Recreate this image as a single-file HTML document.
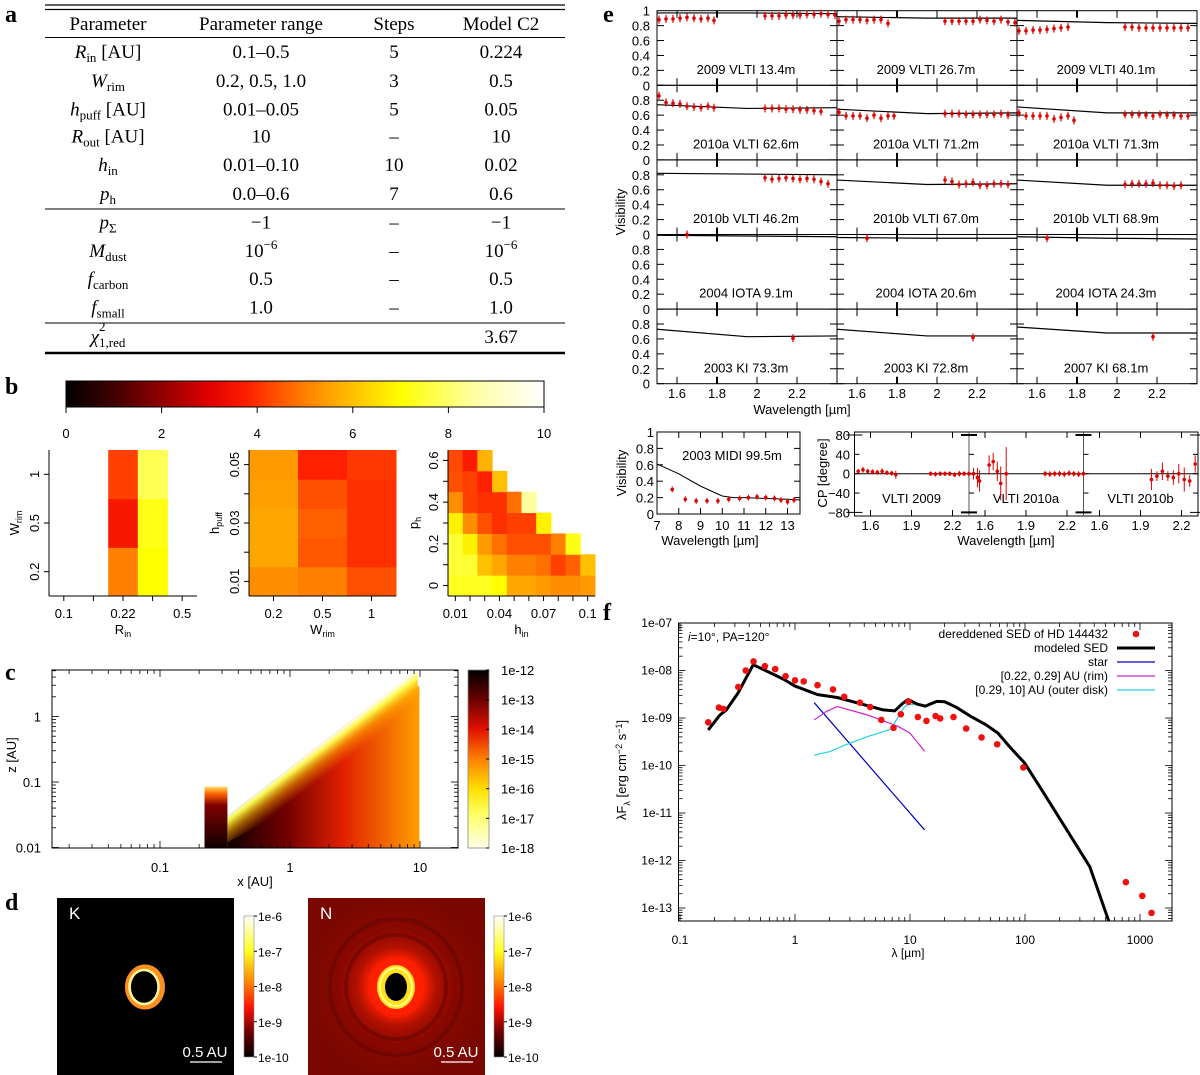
<!DOCTYPE html>
<html><head><meta charset="utf-8">
<style>
html,body{margin:0;padding:0;background:#fff;}
svg{display:block;}
</style></head>
<body>
<svg id="fig" width="1200" height="1075" viewBox="0 0 1200 1075" xmlns="http://www.w3.org/2000/svg" font-family="Liberation Sans, sans-serif">
<defs>
<linearGradient id="gradB" x1="0" y1="0" x2="1" y2="0">
<stop offset="0" stop-color="#000"/><stop offset="0.1" stop-color="#400000"/><stop offset="0.2" stop-color="#900000"/><stop offset="0.3" stop-color="#e00000"/><stop offset="0.38" stop-color="#ff2000"/><stop offset="0.5" stop-color="#ff8000"/><stop offset="0.6" stop-color="#ffc000"/><stop offset="0.7" stop-color="#ffff00"/><stop offset="0.85" stop-color="#ffffa0"/><stop offset="1" stop-color="#fff"/>
</linearGradient>
<linearGradient id="gradC" x1="0" y1="0" x2="0" y2="1">
<stop offset="0" stop-color="#000"/><stop offset="0.15" stop-color="#600000"/><stop offset="0.33" stop-color="#e01000"/><stop offset="0.5" stop-color="#ff8000"/><stop offset="0.67" stop-color="#ffe000"/><stop offset="0.8" stop-color="#ffff60"/><stop offset="1" stop-color="#ffffe8"/>
</linearGradient>
<linearGradient id="gradD" x1="0" y1="0" x2="0" y2="1">
<stop offset="0" stop-color="#fff"/><stop offset="0.25" stop-color="#ffff20"/><stop offset="0.45" stop-color="#ff9000"/><stop offset="0.65" stop-color="#ff1000"/><stop offset="0.82" stop-color="#700000"/><stop offset="1" stop-color="#000"/>
</linearGradient>
<linearGradient id="diskH" gradientUnits="userSpaceOnUse" x1="228" y1="0" x2="420" y2="0">
<stop offset="0" stop-color="#100000"/><stop offset="0.3" stop-color="#700000"/><stop offset="0.6" stop-color="#e02000"/><stop offset="1" stop-color="#ffa000"/>
</linearGradient>
<linearGradient id="diskTop" gradientUnits="userSpaceOnUse" x1="320" y1="744.5" x2="337" y2="767">
<stop offset="0" stop-color="#ffffe8" stop-opacity="1"/><stop offset="0.2" stop-color="#ffff50" stop-opacity="0.95"/><stop offset="0.55" stop-color="#ffb000" stop-opacity="0.55"/><stop offset="1" stop-color="#ff8000" stop-opacity="0"/>
</linearGradient>
<linearGradient id="rimG" x1="0" y1="0" x2="0" y2="1">
<stop offset="0" stop-color="#ffe060"/><stop offset="0.12" stop-color="#ff6000"/><stop offset="0.3" stop-color="#800000"/><stop offset="1" stop-color="#100000"/>
</linearGradient>
<radialGradient id="glowN" cx="0.5" cy="0.5" r="0.5">
<stop offset="0" stop-color="#ff3000"/><stop offset="0.3" stop-color="#ff2000"/><stop offset="0.45" stop-color="#b01000"/><stop offset="0.65" stop-color="#880800"/><stop offset="1" stop-color="#7a0800"/>
</radialGradient>
<clipPath id="clipF"><rect x="678" y="623" width="494" height="298"/></clipPath>
</defs>
</svg>
<script>
// ===== Data =====
const rinTicks=['0.1','0.22','0.5'];
const wrimTicks=['0.2','0.5','1'];
const chi2Rin=[[null,null,5.0,7.0,null],[null,null,3.6,7.2,null],[null,null,4.2,7.8,null]];
const chi2Hpuff=[[5.2,5.0,4.4],[5.6,4.5,4.0],[5.6,4.6,4.0],[5.5,4.4,4.0],[5.4,3.8,4.1]];
const hpuffTicks=['0.01','0.03','0.05'];
const chi2Ph=[
[7.3,7.3,7.3,7.0,5.6,5.6,5.4,5.2,5.2,5.4],
[7.5,7.5,6.0,5.6,5.0,5.0,4.8,4.2,4.6,6.0],
[7.5,6.8,5.4,4.8,4.4,4.4,4.4,5.0,7.2,null],
[6.8,5.2,4.4,4.0,4.2,4.2,6.8,null,null,null],
[5.2,4.2,4.0,4.0,4.8,8.5,null,null,null,null],
[4.4,4.2,3.8,6.0,null,null,null,null,null,null],
[4.3,3.7,5.8,null,null,null,null,null,null,null]];
const hinTicks=['0.01','0.04','0.07','0.1'];
const phTicks=['0','0.2','0.4','0.6'];
const cbarBTicks=[0,2,4,6,8,10];
const visTitles=['2009 VLTI 13.4m','2009 VLTI 26.7m','2009 VLTI 40.1m','2010a VLTI 62.6m','2010a VLTI 71.2m','2010a VLTI 71.3m','2010b VLTI 46.2m','2010b VLTI 67.0m','2010b VLTI 68.9m','2004 IOTA 9.1m','2004 IOTA 20.6m','2004 IOTA 24.3m','2003 KI 73.3m','2003 KI 72.8m','2007 KI 68.1m'];
const visModel=[[0.97,0.97,0.96],[0.92,0.90,0.90],[0.87,0.84,0.83],[0.74,0.69,0.70],[0.68,0.62,0.63],[0.71,0.63,0.63],[0.82,0.81,0.80],[0.73,0.67,0.68],[0.73,0.66,0.66],[0.99,0.98,0.97],[0.96,0.95,0.95],[0.97,0.95,0.94],[0.73,0.63,0.64],[0.73,0.64,0.64],[0.76,0.68,0.68]];
const hLam=[1.51,1.545,1.58,1.615,1.65,1.685,1.72,1.755,1.785];
const kLam=[2.04,2.075,2.11,2.145,2.18,2.215,2.25,2.285,2.32,2.355,2.39];
const visH=[[0.88,0.89,0.89,0.90,0.91,0.90,0.89,0.90,0.87],[0.86,0.88,0.88,0.88,0.87,0.88,0.88,0.83],[0.73,0.73,0.74,0.74,0.75,0.76,0.77,0.78],[0.86,0.77,0.76,0.75,0.72,0.71,0.70,0.72,0.70],[0.64,0.59,0.59,0.59,0.56,0.60,0.56,0.59,0.59],[0.63,0.59,0.59,0.59,0.59,0.55,0.57,0.59,0.53],[],[],[],[],[],[],[],[],[]];
const visK=[[0.93,0.93,0.93,0.94,0.94,0.94,0.95,0.95,0.96,0.95,0.94],[0.86,0.86,0.86,0.86,0.86,0.88,0.87,0.86,0.88,0.85,0.84],[0.78,0.78,0.77,0.77,0.77,0.77,0.77,0.77,0.77,0.77],[0.69,0.69,0.69,0.68,0.68,0.67,0.67,0.66,0.65],[0.62,0.62,0.62,0.61,0.61,0.61,0.61,0.61,0.62,0.60],[0.61,0.61,0.61,0.60,0.59,0.61,0.60,0.60,0.59,0.59],[0.76,0.74,0.75,0.76,0.75,0.74,0.75,0.74,0.71,0.68],[0.73,0.71,0.67,0.68,0.70,0.66,0.66,0.68,0.68,0.67],[0.67,0.68,0.68,0.68,0.69,0.66,0.66,0.65,0.66],[],[],[],[],[],[]];
const visSingleLam=[null,null,null,null,null,null,null,null,null,1.65,1.65,1.65,2.18,2.18,2.18];
const visSingleV=[null,null,null,null,null,null,null,null,null,1.0,0.95,0.95,0.61,0.62,0.63];
const visXTicks=[1.6,1.8,2.0,2.2];
const visYTicks=[0,0.2,0.4,0.6,0.8];
const midiLam=[7.7,8.3,8.8,9.3,9.8,10.3,10.8,11.2,11.6,12.0,12.4,12.7,13.0,13.3];
const midiV=[0.30,0.18,0.16,0.16,0.16,0.18,0.19,0.20,0.21,0.20,0.19,0.17,0.15,0.17];
const midiModelLam=[7,8,9,10,10.5,11,12,13,13.6];
const midiModelV=[0.61,0.49,0.34,0.22,0.20,0.20,0.19,0.18,0.17];
const midiXTicks=[7,8,9,10,11,12,13];
const cpTitles=['VLTI 2009','VLTI 2010a','VLTI 2010b'];
const cpLam=[[1.51,1.545,1.58,1.615,1.65,1.685,1.72,1.755,1.785,2.04,2.075,2.11,2.145,2.18,2.215,2.25,2.285,2.32],
[1.516,1.545,1.56,1.63,1.66,1.69,1.715,1.755,2.04,2.075,2.11,2.145,2.18,2.215,2.25,2.285,2.32],
[1.98,2.02,2.06,2.10,2.14,2.18,2.22,2.26,2.30]];
const cpVal=[[5,8,5,4,3,5,2,1,-2,0,-1,0,0,0,-2,0,0,0],
[0,-8,-15,18,25,5,-20,0,0,-1,0,0,-1,1,0,-1,0],
[-12,-5,5,-5,-8,0,-12,-15,20]];
const cpErr=[[5,6,5,5,5,6,5,5,8,5,5,5,5,5,5,6,5,6],
[12,20,22,20,18,20,35,55,6,6,6,6,6,6,6,6,6],
[22,10,18,10,15,20,25,12,18]];
const cpXTicks=[1.6,1.9,2.2];
const cpYTicks=[-80,-40,0,40,80];
const sedLam=[0.176,0.218,0.238,0.321,0.373,0.436,0.547,0.673,0.828,1.0,1.19,1.57,2.14,2.68,3.67,4.51,5.63,7.19,8.32,9.7,11.7,13.9,16.7,18.3,23.9,30.8,41.9,57.3,96.7,753,1047,1259];
const sedF=[8.1e-10,1.66e-9,1.55e-9,4.5e-9,1.0e-8,1.55e-8,1.23e-8,1.07e-8,7.6e-9,6.2e-9,5.9e-9,4.9e-9,4.0e-9,2.8e-9,2.1e-9,1.7e-9,9.1e-10,6.2e-10,1.2e-9,2.2e-9,1.05e-9,8.7e-10,1.1e-9,9.8e-10,1.05e-9,6.0e-10,3.9e-10,2.8e-10,9.1e-11,3.5e-13,1.8e-13,7.9e-14];
const modelLam=[0.176,0.222,0.253,0.318,0.433,0.545,0.80,1.0,1.26,1.58,2.33,3.69,5.85,7.36,8.57,9.62,11.6,13.6,17.1,20.0,25.1,34.0,46.2,58.2,73.3,99.5,146,231,366,538];
const modelF=[5.6e-10,1.15e-9,1.48e-9,3.3e-9,1.32e-8,1.02e-8,6.5e-9,4.7e-9,3.8e-9,3.1e-9,2.7e-9,2.0e-9,1.48e-9,1.41e-9,2.0e-9,2.45e-9,1.95e-9,1.78e-9,2.24e-9,2.2e-9,1.7e-9,1.07e-9,7.1e-10,4.8e-10,2.5e-10,1.12e-10,2.6e-11,4.4e-12,7.4e-13,5.1e-14];
const starLam=[1.47,13.4];
const starF=[2.1e-9,4.4e-12];
const rimLam=[1.47,1.85,2.33,4.31,7.94,10.0,13.4];
const rimF=[9.1e-10,1.35e-9,1.74e-9,1.15e-9,6.6e-10,4.8e-10,2.0e-10];
const outerLam=[1.47,2.0,2.72,4.31,6.82,8.57,9.27,11.6,13.4];
const outerF=[1.66e-10,1.95e-10,2.7e-10,4.1e-10,5.8e-10,1.48e-9,1.86e-9,2.0e-9,1.7e-9];
const sedXTicks=[0.1,1,10,100,1000];
const sedYTicks=['1e-07','1e-08','1e-09','1e-10','1e-11','1e-12','1e-13'];
const cXTicks=['0.1','1','10'];
const cYTicks=['0.01','0.1','1'];
const cCbarTicks=['1e-12','1e-13','1e-14','1e-15','1e-16','1e-17','1e-18'];
const dCbarTicks=['1e-6','1e-7','1e-8','1e-9','1e-10'];

// ===== helpers =====
const NS='http://www.w3.org/2000/svg';
const svg=document.getElementById('fig');
const SERIF='Liberation Serif, serif';
function mk(tag,attrs,parent){const e=document.createElementNS(NS,tag);for(const k in attrs)e.setAttribute(k,attrs[k]);(parent||svg).appendChild(e);return e;}
function txt(x,y,s,attrs,parent){const t=mk('text',Object.assign({x:x,y:y},attrs||{}),parent);t.textContent=s;return t;}
function grp(name){const g=mk('g',{});return g;}
function line(x1,y1,x2,y2,st,w,p){return mk('line',{x1:x1,y1:y1,x2:x2,y2:y2,stroke:st||'#000','stroke-width':w||1},p);}
const heatStops=[[0,[0,0,0]],[1,[64,0,0]],[2,[144,0,0]],[3,[224,0,0]],[3.8,[255,32,0]],[5,[255,128,0]],[6,[255,192,0]],[7,[255,255,0]],[8.5,[255,255,160]],[10,[255,255,255]]];
function heat(v){for(let i=0;i<heatStops.length-1;i++){const a=heatStops[i],b=heatStops[i+1];if(v<=b[0]){const t=(v-a[0])/(b[0]-a[0]);const c=a[1].map((x,j)=>Math.round(x+(b[1][j]-x)*t));return 'rgb('+c.join(',')+')';}}return '#fff';}

// ===== Panel labels =====
[['a',5,22],['b',5,394],['c',5,680],['d',5,910],['e',603,22],['f',603,620]].forEach(l=>{
  const t=txt(l[1],l[2],l[0],{'font-family':SERIF,'font-weight':'bold','font-size':'24'});
  
  
});

// ===== Panel a: table =====
(function(){
  const g=grp('parameter-table');
  const L=45,R=565;
  line(L,5,R,5,'#000',1.2,g);line(L,9.5,R,9.5,'#000',1.2,g);
  line(L,37.5,R,37.5,'#000',1,g);line(L,209,R,209,'#000',1,g);line(L,323,R,323,'#000',1,g);line(L,353,R,353,'#000',2.5,g);
  const cx=[108,261,394,501];
  const hdr=['Parameter','Parameter range','Steps','Model C2'];
  hdr.forEach((h,i)=>{const t=txt(cx[i],30,h,{'font-family':SERIF,'font-size':'19','text-anchor':'middle'},g);});
  const rows=[
   [['R','in',' [AU]'],'0.1–0.5','5','0.224',52],
   [['W','rim',''],'0.2,  0.5,  1.0','3','0.5',81],
   [['h','puff',' [AU]'],'0.01–0.05','5','0.05',109.5],
   [['R','out',' [AU]'],'10','–','10',136.5],
   [['h','in',''],'0.01–0.10','10','0.02',165],
   [['p','h',''],'0.0–0.6','7','0.6',194],
   [['p','Σ',''],'−1','–','−1',222.5],
   [['M','dust',''],'10','–','10',251],
   [['f','carbon',''],'0.5','–','0.5',279],
   [['f','small',''],'1.0','–','1.0',307.5],
   [['χ','1,red',''],'','','3.67',337]];
  rows.forEach((r,ri)=>{
    const y=r[4]+6;
    const t=mk('text',{x:cx[0],y:y,'font-family':SERIF,'font-size':'19','text-anchor':'middle'},g);
    
    
    const a=mk('tspan',{'font-style':'italic'},t);a.textContent=r[0][0];
    const b=mk('tspan',{'font-size':'13',dy:'4'},t);b.textContent=r[0][1];
    if(r[0][2]){const c=mk('tspan',{dy:'-4'},t);c.textContent=r[0][2];}
    if(ri===10){const s=txt(99,y-12,'2',{'font-family':SERIF,'font-size':'13'},g);}
    [r[1],r[2],r[3]].forEach((v,ci)=>{
      const tt=txt(cx[ci+1],y,v,{'font-family':SERIF,'font-size':'19','text-anchor':'middle'},g);
      
      
      if(ri===7&&ci!==1){const sp=mk('tspan',{'font-size':'13',dy:'-8'},tt);sp.textContent='−6';}
    });
  });
})();

// ===== Panel b =====
(function(){
  const g=grp('chi2-colorbar');
  const r=mk('rect',{x:66,y:381,width:478,height:26,fill:'url(#gradB)',stroke:'#000','stroke-width':1},g);
  
  cbarBTicks.forEach(v=>{const x=66+v/10*478;line(x,407,x,413,'#000',1,g);const t=txt(x,438,String(v),{'font-size':'13','text-anchor':'middle'},g);});
})();
function heatPanel(name,x0,y0,w,h,grid,xt,xtIdx,yt,ytIdx,xTitle,xSub,yTitle,ySub){
  const g=grp(name);
  const nr=grid.length,nc=grid[0].length,cw=w/nc,rh=h/nr;
  grid.forEach((row,ri)=>row.forEach((v,ci)=>{
    if(v===null)return;
    const c=mk('rect',{x:x0+ci*cw,y:y0+h-(ri+1)*rh,width:cw+0.5,height:rh+0.5,fill:heat(v)},g);
    
    
  }));
  line(x0,y0,x0,y0+h,'#000',1,g);line(x0,y0+h,x0+w,y0+h,'#000',1,g);
  for(let i=0;i<nc;i++){line(x0+(i+0.5)*cw,y0+h,x0+(i+0.5)*cw,y0+h+5,'#000',1,g);}
  for(let i=0;i<nr;i++){line(x0,y0+h-(i+0.5)*rh,x0-5,y0+h-(i+0.5)*rh,'#000',1,g);}
  xt.forEach((s,i)=>{const t=txt(x0+(xtIdx[i]+0.5)*cw,618,s,{'font-size':'13','text-anchor':'middle'},g);});
  yt.forEach((s,i)=>{const y=y0+h-(ytIdx[i]+0.5)*rh;const t=txt(0,0,s,{'font-size':'13','text-anchor':'middle',transform:'translate('+(x0-10)+','+y+') rotate(-90)'},g);});
  const xtT=mk('text',{x:x0+w/2,y:634,'font-size':'13','text-anchor':'middle'},g);
  
  xtT.textContent=xTitle;const s1=mk('tspan',{'font-size':'9',dy:'3'},xtT);s1.textContent=xSub;
  const ytT=mk('text',{x:0,y:0,'font-size':'13','text-anchor':'middle',transform:'translate('+(x0-30)+','+(y0+h/2)+') rotate(-90)'},g);
  
  ytT.textContent=yTitle;const s2=mk('tspan',{'font-size':'9',dy:'3'},ytT);s2.textContent=ySub;
}
heatPanel('heatmap-rin-wrim',49,450,148,146,chi2Rin,rinTicks,[0,2,4],wrimTicks,[0,1,2],'R','in','W','rim');
heatPanel('heatmap-wrim-hpuff',249,450,147,146,chi2Hpuff,wrimTicks,[0,1,2],hpuffTicks,[0,2,4],'W','rim','h','puff');
heatPanel('heatmap-hin-ph',448,450,147,146,chi2Ph,hinTicks,[0,3,6,9],phTicks,[0,2,4,6],'h','in','p','h');

// ===== Panel c =====
(function(){
  const g=grp('density-map');
  const X0=52,X1=458,Y0=670,Y1=848;
  const lx=v=>290+Math.log10(v)*130, ly=v=>782-Math.log10(v/0.1)*65.5;
  const pts=a=>a.map(p=>p.join(',')).join(' ');
  const disk=mk('polygon',{points:pts([[lx(0.33),ly(0.03)],[lx(8.8),ly(4.6)],[lx(9.6),ly(4.6)],[lx(9.6),ly(2.9)],[lx(9.9),ly(2.9)],[lx(9.9),Y1],[lx(0.33),Y1]]),fill:'url(#diskH)'},g);
  
  const band=mk('polygon',{points:pts([[lx(0.33),ly(0.03)],[lx(8.8),ly(4.6)],[lx(9.6),ly(4.6)],[lx(9.6),ly(2.9)],[lx(9.9),ly(2.9)],[lx(9.9),ly(0.5)],[lx(0.33),ly(0.012)]]),fill:'url(#diskTop)'},g);
  
  const rim=mk('rect',{x:lx(0.22),y:ly(0.085),width:lx(0.33)-lx(0.22),height:Y1-ly(0.085),fill:'url(#rimG)'},g);
  
  mk('rect',{x:X0,y:Y0,width:X1-X0,height:Y1-Y0,fill:'none',stroke:'#000','stroke-width':1},g);
  for(let d=-2;d<=1;d++)for(let m=1;m<10;m++){const v=m*Math.pow(10,d);const x=lx(v);if(x<X0||x>X1)continue;const L=m===1?7:4;line(x,Y1,x,Y1-L,'#000',0.8,g);line(x,Y0,x,Y0+L,'#000',0.8,g);}
  for(let d=-2;d<=0;d++)for(let m=1;m<10;m++){const v=m*Math.pow(10,d);const y=ly(v);if(y<Y0||y>Y1)continue;const L=m===1?7:4;line(X0,y,X0+L,y,'#000',0.8,g);line(X1,y,X1-L,y,'#000',0.8,g);}
  cXTicks.forEach(s=>{const t=txt(lx(+s),872,s,{'font-size':'13','text-anchor':'middle'},g);});
  cYTicks.forEach(s=>{const t=txt(41,ly(+s)+5,s,{'font-size':'13','text-anchor':'end'},g);});
  const xt=txt(255,886,'x [AU]',{'font-size':'13','text-anchor':'middle'},g);
  const yt=txt(0,0,'z [AU]',{'font-size':'13','text-anchor':'middle',transform:'translate(16,755) rotate(-90)'},g);
  const cb=mk('rect',{x:468,y:670,width:21,height:178,fill:'url(#gradC)',stroke:'#888','stroke-width':0.8},g);
  
  cCbarTicks.forEach((s,i)=>{const y=670+i*178/6;line(486,y,489,y,'#000',1,g);const t=txt(501,y+5,s,{'font-size':'13'},g);});
})();

// ===== Panel d =====
function imgPanel(name,x0,label,isN,cbx){
  const g=grp(name);
  const r=mk('rect',{x:x0,y:898,width:177,height:177,fill:isN?'url(#glowN)':'#000'},g);
  
  const cx=x0+88,cy=987;
  if(isN){
    [[50,52],[66,68]].forEach(rr=>{mk('ellipse',{cx:cx,cy:cy,rx:rr[0],ry:rr[1],fill:'none',stroke:'#600400','stroke-width':4,opacity:0.5},g);});
    mk('ellipse',{cx:cx,cy:cy,rx:28,ry:31,fill:'#ff2000',opacity:0.6},g);
    mk('ellipse',{cx:cx,cy:cy,rx:19,ry:22,fill:'#ffe020'},g);
    mk('ellipse',{cx:cx,cy:cy,rx:16,ry:19,fill:'none',stroke:'#ffff80','stroke-width':2},g);
    mk('ellipse',{cx:cx,cy:cy,rx:11,ry:14,fill:'#000'},g);
  }else{
    mk('ellipse',{cx:cx,cy:cy,rx:17,ry:19.5,fill:'none',stroke:'#ff9020','stroke-width':6},g);
    mk('ellipse',{cx:cx-1,cy:cy,rx:14.5,ry:17,fill:'none',stroke:'#fff8a0','stroke-width':2.5},g);
  }
  const t=txt(x0+12,919,label,{'font-size':'17',fill:'#fff'},g);
  const s=txt(x0+148,1057,'0.5 AU',{'font-size':'15',fill:'#fff','text-anchor':'middle'},g);
  line(x0+133,1062,x0+165,1062,'#fff',1.2,g);
  const cb=mk('rect',{x:cbx,y:916,width:10,height:141,fill:'url(#gradD)',stroke:'#888','stroke-width':0.6},g);
  
  dCbarTicks.forEach((st,i)=>{const y=916+i*141/4;line(cbx+10,y,cbx+13,y,'#000',1,g);const tt=txt(cbx+14,y+5,st,{'font-size':'12'},g);});
}
imgPanel('k-band-image',57,'K',false,244);
imgPanel('n-band-image',308,'N',true,494);

// ===== Panel e: visibilities =====
(function(){
  const g=grp('visibility-grid');
  const CW=180,RH=74.6,TOP=10.7,LX=657;
  const px=(c,l)=>LX+c*CW+(l-1.5)/0.9*CW;
  const py=(r,v)=>TOP+r*RH+(1-v)*RH;
  for(let i=0;i<15;i++){
    const r=Math.floor(i/3),c=i%3;
    const pg=mk('g',{},g);
    
    
    mk('rect',{x:LX+c*CW,y:TOP+r*RH,width:CW,height:RH,fill:'none',stroke:'#000','stroke-width':1},pg);
    visXTicks.forEach(l=>{const x=px(c,l);line(x,py(r,0),x,py(r,0)-7,'#000',l===1.8?2:1,pg);line(x,py(r,1),x,py(r,1)+7,'#000',l===1.8?2:1,pg);});
    visYTicks.forEach(v=>{const y=py(r,v);line(LX+c*CW,y,LX+c*CW+7,y,'#000',1,pg);line(LX+(c+1)*CW,y,LX+(c+1)*CW-7,y,'#000',1,pg);});
    const m=visModel[i];
    const ml=mk('polyline',{points:[[px(c,1.5),py(r,m[0])],[px(c,1.95),py(r,m[1])],[px(c,2.4),py(r,m[2])]].map(p=>p.join(',')).join(' '),fill:'none',stroke:'#000','stroke-width':1.2},pg);
    
    const pts=[];
    visH[i].forEach((v,k)=>pts.push([hLam[k],v]));
    visK[i].forEach((v,k)=>pts.push([kLam[k],v]));
    if(visSingleLam[i]!==null)pts.push([visSingleLam[i],visSingleV[i]]);
    pts.forEach(p=>{const x=px(c,p[0]),y=py(r,p[1]);line(x,y-4,x,y+4,'#e00000',1.2,pg);const d=mk('circle',{cx:x,cy:y,r:1.8,fill:'#e00000'},pg);});
    const t=txt(LX+c*CW+89,py(r,0.22)+5,visTitles[i],{'font-size':'13','text-anchor':'middle'},pg);
    
  }
  for(let r=0;r<5;r++){visYTicks.forEach(v=>{const t=txt(650,py(r,v)+5,String(v),{'font-size':'13','text-anchor':'end'},g);});}
  const one=txt(650,TOP+5,'1',{'font-size':'13','text-anchor':'end'},g);
  for(let c=0;c<3;c++)visXTicks.forEach(l=>{const t=txt(px(c,l),398,l===2?'2':String(l),{'font-size':'13','text-anchor':'middle'},g);});
  const xt=txt(802,414,'Wavelength [µm]',{'font-size':'13','text-anchor':'middle'},g);
  const yt=txt(0,0,'Visibility',{'font-size':'13','text-anchor':'middle',transform:'translate(625,212) rotate(-90)'},g);
})();

// ===== MIDI =====
(function(){
  const g=grp('midi-visibility');
  const X0=657,X1=800,Y0=432,Y1=514;
  const px=l=>X0+(l-7)*21.75, py=v=>Y1-v*(Y1-Y0);
  mk('rect',{x:X0,y:Y0,width:X1-X0,height:Y1-Y0,fill:'none',stroke:'#000','stroke-width':1},g);
  midiXTicks.forEach(l=>{line(px(l),Y1,px(l),Y1-6,'#000',1,g);line(px(l),Y0,px(l),Y0+6,'#000',1,g);const t=txt(px(l),530,String(l),{'font-size':'13','text-anchor':'middle'},g);});
  [0,0.2,0.4,0.6,0.8,1].forEach(v=>{line(X0,py(v),X0+6,py(v),'#000',1,g);line(X1,py(v),X1-6,py(v),'#000',1,g);const t=txt(654,py(v)+5,String(v),{'font-size':'13','text-anchor':'end'},g);});
  const ml=mk('polyline',{points:midiModelLam.map((l,i)=>px(l)+','+py(midiModelV[i])).join(' '),fill:'none',stroke:'#000','stroke-width':1},g);
  
  midiLam.forEach((l,i)=>{const x=px(l),y=py(midiV[i]);line(x,y-3,x,y+3,'#e00000',1,g);const d=mk('circle',{cx:x,cy:y,r:1.8,fill:'#e00000'},g);});
  const t=txt(732,460,'2003 MIDI 99.5m',{'font-size':'13','text-anchor':'middle'},g);
  const xt=txt(710,545,'Wavelength [µm]',{'font-size':'13','text-anchor':'middle'},g);
  const yt=txt(0,0,'Visibility',{'font-size':'13','text-anchor':'middle',transform:'translate(626,473) rotate(-90)'},g);
})();

// ===== CP =====
(function(){
  const g=grp('closure-phase');
  const X0=854.5,SW=114.5,Y0=432,Y1=516;
  const px=(s,l)=>X0+s*SW+(l-1.483)*136.7, py=v=>473.7-v*(38.7/80);
  mk('rect',{x:X0,y:Y0,width:3*SW,height:Y1-Y0,fill:'none',stroke:'#000','stroke-width':1},g);
  line(X0,py(0),X0+3*SW,py(0),'#000',1,g);
  for(let s=1;s<3;s++)line(X0+s*SW,Y0,X0+s*SW,Y1,'#555',1,g);
  cpYTicks.forEach(v=>{const t=txt(850,py(v)+5,(v<0?'−':'')+Math.abs(v),{'font-size':'13','text-anchor':'end'},g);
    for(let s=0;s<=3;s++){if(Math.abs(v)===80){line(X0+s*SW-8,py(v),X0+s*SW+8,py(v),'#000',s===0||s===3?1:2,g);}else{line(X0+s*SW,py(v),X0+s*SW+(s===3?-5:5),py(v),'#000',1,g);}}});
  for(let s=0;s<3;s++){
    cpXTicks.forEach(l=>{const x=px(s,l);line(x,Y1,x,Y1-6,'#000',1,g);line(x,Y0,x,Y0+6,'#000',1,g);const t=txt(x,530,String(l),{'font-size':'13','text-anchor':'middle'},g);});
    const tt=txt(X0+s*SW+57,503,cpTitles[s],{'font-size':'13','text-anchor':'middle'},g);
    cpLam[s].forEach((l,i)=>{const x=px(s,l),y=py(cpVal[s][i]),e=cpErr[s][i]*(38.7/80);line(x,y-e,x,y+e,'#e00000',1,g);const d=mk('circle',{cx:x,cy:y,r:1.8,fill:'#e00000'},g);});
  }
  const xt=txt(1006,545,'Wavelength [µm]',{'font-size':'13','text-anchor':'middle'},g);
  const yt=txt(0,0,'CP [degree]',{'font-size':'13','text-anchor':'middle',transform:'translate(827,473) rotate(-90)'},g);
})();

// ===== Panel f: SED =====
(function(){
  const g=grp('sed-plot');
  const X0=678.5,X1=1172,Y0=623,Y1=921;
  const px=l=>795+Math.log10(l)*115, py=f=>623-(Math.log10(f)+7)*47.5;
  mk('rect',{x:X0,y:Y0,width:X1-X0,height:Y1-Y0,fill:'none',stroke:'#000','stroke-width':1},g);
  for(let d=-1;d<=3;d++)for(let m=1;m<10;m++){const x=px(m*Math.pow(10,d));if(x<X0||x>X1)continue;const L=m===1?7:4;line(x,Y1,x,Y1-L,'#000',0.8,g);line(x,Y0,x,Y0+L,'#000',0.8,g);}
  for(let d=-14;d<=-8;d++)for(let m=1;m<10;m++){const y=py(m*Math.pow(10,d));if(y<Y0||y>Y1)continue;const L=m===1?7:4;line(X0,y,X0+L,y,'#000',0.8,g);line(X1,y,X1-L,y,'#000',0.8,g);}
  sedXTicks.forEach(l=>{const t=txt(px(l),944,String(l),{'font-size':'12','text-anchor':'middle'},g);});
  sedYTicks.forEach(s=>{const t=txt(672,py(+s)+4,s,{'font-size':'12','text-anchor':'end'},g);});
  const cg=mk('g',{'clip-path':'url(#clipF)'},g);
  function series(lam,F,col,w,name){const p=mk('polyline',{points:lam.map((l,i)=>px(l)+','+py(F[i])).join(' '),fill:'none',stroke:col,'stroke-width':w,'stroke-linejoin':'round'},cg);}
  series(starLam,starF,'#0000c0',1.2,'star-line');
  series(rimLam,rimF,'#d020d0',1.2,'rim-line');
  series(outerLam,outerF,'#20d0e0',1.2,'outer-disk-line');
  series(modelLam,modelF,'#000',3,'modeled-sed-line');
  sedLam.forEach((l,i)=>{const d=mk('circle',{cx:px(l),cy:py(sedF[i]),r:3.3,fill:'#f01010'},cg);});
  const leg=[['dereddened SED of HD 144432',null],['modeled SED','#000'],['star','#0000c0'],['[0.22, 0.29] AU (rim)','#d020d0'],['[0.29, 10] AU (outer disk)','#20d0e0']];
  leg.forEach((e,i)=>{const y=634+i*14;const lg=mk('g',{},g);
    txt(1108,y+4,e[0],{'font-size':'12','text-anchor':'end'},lg);
    if(e[1])line(1117,y,1155,y,e[1],i===1?3:1.2,lg);else mk('circle',{cx:1136,cy:y,r:3.3,fill:'#f01010'},lg);});
  const ann=mk('text',{x:688,y:641,'font-size':'12'},g);
  const i1=mk('tspan',{'font-style':'italic'},ann);i1.textContent='i';const i2=mk('tspan',{},ann);i2.textContent='=10°, PA=120°';
  const xt=txt(908,957,'λ [µm]',{'font-size':'12','text-anchor':'middle'},g);
  const yt=mk('text',{x:0,y:0,'font-size':'13','text-anchor':'middle',transform:'translate(626,770) rotate(-90)'},g);
  
  [['λF',0],['λ',4],[' [erg cm',-4],['−2',-4],[' s',4],['−1',-4],[']',4]].forEach((p,i)=>{const s=mk('tspan',{dy:String(p[1]),'font-size':(i===1||i===3||i===5)?'9':'13'},yt);s.textContent=p[0];});
})();
</script>
</body></html>
